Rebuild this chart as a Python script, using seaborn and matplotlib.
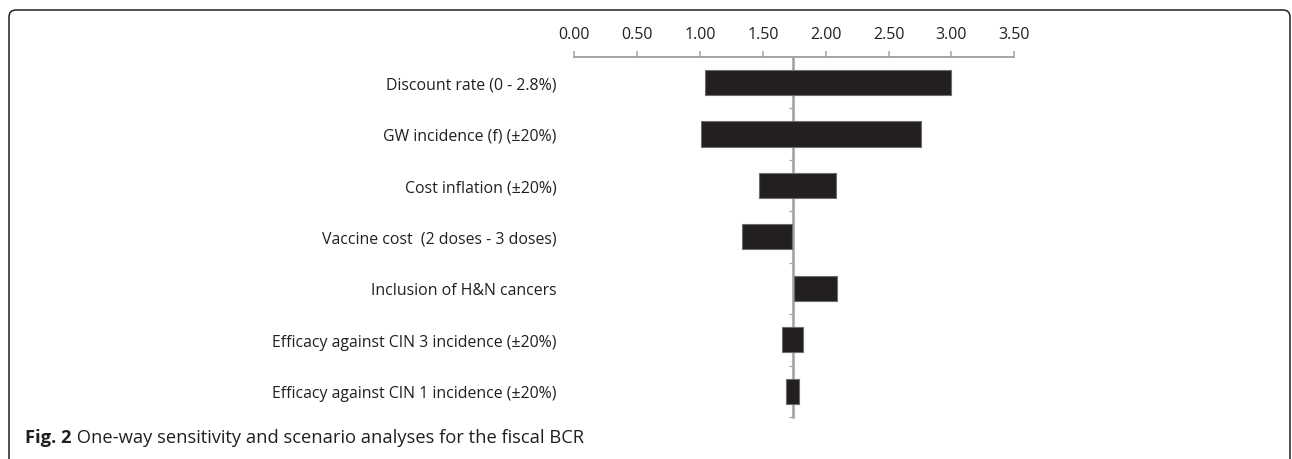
import matplotlib
matplotlib.use('Agg')
import matplotlib.pyplot as plt
import seaborn as sns
import pandas as pd
from matplotlib.patches import FancyBboxPatch

# tornado data
labels = ['Discount rate (0 - 2.8%)',
          'GW incidence (f) (\u00b120%)',
          'Cost inflation (\u00b120%)',
          'Vaccine cost  (2 doses - 3 doses)',
          'Inclusion of H&N cancers',
          'Efficacy against CIN 3 incidence (\u00b120%)',
          'Efficacy against CIN 1 incidence (\u00b120%)']
low = [1.04, 1.01, 1.47, 1.33, 1.745, 1.65, 1.68]
high = [3.00, 2.76, 2.08, 1.735, 2.09, 1.82, 1.79]
base = 1.74
xticks = [0.0, 0.5, 1.0, 1.5, 2.0, 2.5, 3.0, 3.5]

caption_bold = 'Fig. 2'
caption = ' One-way sensitivity and scenario analyses for the fiscal BCR'

dark = '#231f20'
grey = '#a3a5a8'

sns.set_style('white')
plt.rcParams['font.family'] = ['Open Sans', 'DejaVu Sans']

df = pd.DataFrame({'label': labels, 'low': low, 'high': high})
df['span'] = df['high'] - df['low']

fig = plt.figure(figsize=(12.92, 4.60), dpi=100)
ax = fig.add_axes([574.3 / 1292, 1 - 418 / 460, 440 / 1292, (418 - 57.7) / 460])

sns.barplot(data=df, x='span', y='label', orient='h', color=dark, saturation=1,
            width=0.49, edgecolor='#6d6e71', linewidth=0.8, ax=ax)
# shift each bar so it starts at its low value
for patch, lo in zip(ax.patches, df['low']):
    patch.set_x(lo)

ax.set_xlim(0, 3.5)
ax.set_ylim(6.5, -0.5)
ax.set_xticks(xticks)
ax.set_xticklabels([f'{v:.2f}' for v in xticks])
ax.xaxis.tick_top()
ax.tick_params(axis='x', top=True, bottom=False, direction='out', length=4.3,
               width=1.1, color=grey, pad=6, labelsize=11.5, labelcolor=dark)
ax.tick_params(axis='y', left=False, length=0, pad=12.7, labelsize=11.4, labelcolor=dark)
ax.set_xlabel('')
ax.set_ylabel('')
for side in ['left', 'right', 'bottom']:
    ax.spines[side].set_visible(False)
ax.spines['top'].set_color(grey)
ax.spines['top'].set_linewidth(1.4)

# baseline axis with category separators
sec = ax.secondary_yaxis(base / 3.5)
sec.set_yticks([i + 0.5 for i in range(len(labels))])
sec.set_yticklabels([])
sec.tick_params(axis='y', direction='out', length=3, width=0.9, color=grey)
sec.spines['left'].set_color('#9d9fa2')
sec.spines['left'].set_linewidth(1.8)
sec.spines['right'].set_visible(False)

# caption
t1 = fig.text(25 / 1292, 1 - 443 / 460, caption_bold, fontsize=13.2, fontweight='bold',
              color=dark, va='baseline', ha='left')
ax.annotate(caption, xy=(1, 0), xycoords=t1, va='bottom', ha='left', fontsize=13.2,
            color=dark, annotation_clip=False)

# rounded frame
frame = FancyBboxPatch((0.09, -0.3), 12.81, 4.79, boxstyle='round,pad=0,rounding_size=0.07',
                       transform=fig.dpi_scale_trans, fill=False, edgecolor=dark,
                       linewidth=1.1, clip_on=False)
fig.patches.append(frame)

plt.savefig('out.png', dpi=100)
plt.close()
